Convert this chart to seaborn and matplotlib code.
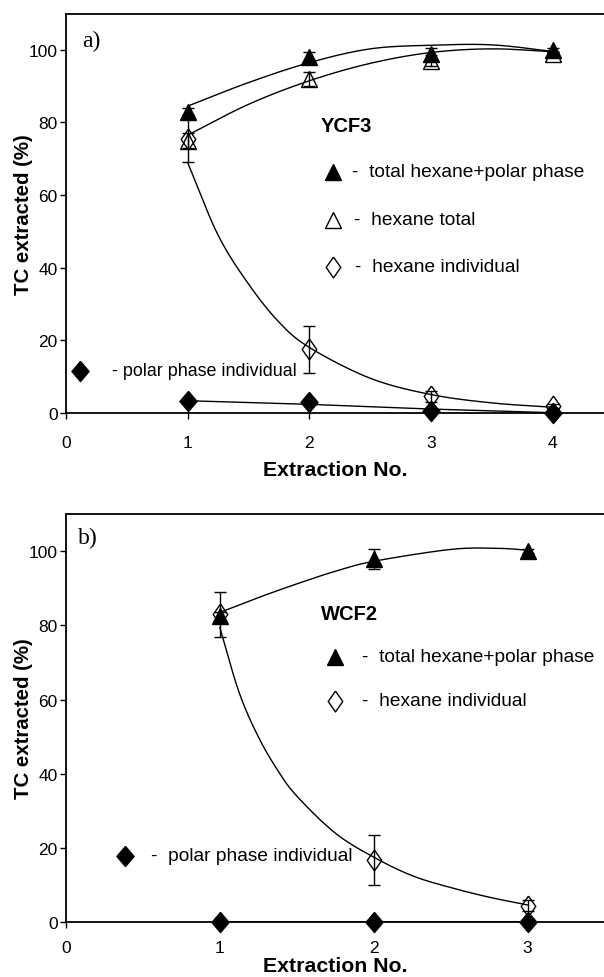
import matplotlib
matplotlib.use("Agg")
import matplotlib.pyplot as plt
import seaborn as sns
import pandas as pd
import numpy as np

# ---- panel a (YCF3) ----
a_x = [1, 2, 3, 4]
a_total = [83, 98, 99, 100]
a_total_err = [1, 1.5, 1.5, 0.5]
a_hex_total = [75, 92, 97, 99]
a_hex_total_err = [2, 2, 1.5, 0.5]
a_hex_ind = [75.5, 17.5, 4.5, 1.8]
a_hex_ind_err = [6.5, 6.5, 1.5, 0.5]
a_polar = [3.2, 3.0, 0.5, 0]

# smoothed trend lines
a_total_fit_x = [1, 1.5, 2, 2.5, 3, 3.5, 4]
a_total_fit = [84.5, 91, 96.5, 100.3, 101.3, 101.4, 99.6]
a_hex_total_fit_x = [1, 1.5, 2, 2.5, 3, 3.5, 4]
a_hex_total_fit = [76.5, 85, 91.5, 96.3, 99.3, 100.3, 99.5]
a_hex_ind_fit_x = [1, 1.25, 1.5, 1.75, 2, 2.5, 3, 3.5, 4]
a_hex_ind_fit = [69, 49, 35.5, 25, 18, 9.5, 5, 2.7, 1.5]
a_polar_fit_x = [1, 2, 3, 4]
a_polar_fit = [3.3, 2.3, 1.0, 0]

# ---- panel b (WCF2) ----
b_x = [1, 2, 3]
b_total = [82.6, 97.8, 100]
b_total_err = [1, 2.7, 0.5]
b_hex_ind = [83, 16.8, 4.4]
b_hex_ind_err = [6, 6.8, 1.5]
b_polar = [0, 0, 0]

b_total_fit_x = [1, 1.25, 1.5, 1.75, 2, 2.5, 2.8, 3]
b_total_fit = [83.5, 87.5, 91.2, 94.6, 97.3, 100.5, 100.8, 100.3]
b_hex_ind_fit_x = [1, 1.125, 1.25, 1.375, 1.5, 1.75, 2, 2.25, 2.5, 2.75, 3]
b_hex_ind_fit = [79.5, 62, 50, 41, 34, 24, 17.5, 12.5, 9.3, 6.7, 4.6]

y_ticks = [0, 20, 40, 60, 80, 100]


def smooth(xs, ys, n=30):
    # catmull-rom spline through the knots, like a spreadsheet "smoothed line"
    p = np.column_stack([xs, ys]).astype(float)
    p = np.vstack([2 * p[0] - p[1], p, 2 * p[-1] - p[-2]])
    out = []
    t = np.linspace(0, 1, n)[:, None]
    for i in range(1, len(p) - 2):
        p0, p1, p2, p3 = p[i - 1], p[i], p[i + 1], p[i + 2]
        seg = 0.5 * ((2 * p1) + (-p0 + p2) * t + (2 * p0 - 5 * p1 + 4 * p2 - p3) * t ** 2
                     + (-p0 + 3 * p1 - 3 * p2 + p3) * t ** 3)
        out.append(seg if i == 1 else seg[1:])
    out = np.vstack(out)
    return pd.DataFrame({"x": out[:, 0], "y": out[:, 1]})


sns.set_style("ticks")
plt.rcParams["font.family"] = ["Liberation Sans", "DejaVu Sans"]
plt.rcParams["text.color"] = "black"
plt.rcParams["axes.labelcolor"] = "black"

fig = plt.figure(figsize=(6.04, 9.78), dpi=100)
ax_a = fig.add_axes([0.109, 0.577, 0.907, 0.408])
ax_b = fig.add_axes([0.109, 0.0562, 0.892, 0.417])

fat_diamond = [(0, 1), (0.85, 0), (0, -1), (-0.85, 0), (0, 1)]
thin_diamond = [(0, 1), (0.7, 0), (0, -1), (-0.7, 0), (0, 1)]
line_kw = dict(color="black", linewidth=1.0, sort=False, estimator=None)
tri_kw = dict(marker="^", markersize=11, linestyle="none", color="black", clip_on=False, zorder=5)
otri_kw = dict(marker="^", markersize=11.5, linestyle="none", color="black", markerfacecolor="none",
               markeredgewidth=1.0, clip_on=False, zorder=5)
dia_kw = dict(marker=fat_diamond, markersize=14.5, linestyle="none", color="black", clip_on=False, zorder=5)
odia_kw = dict(marker=thin_diamond, markersize=15, linestyle="none", color="black",
               markerfacecolor="none", markeredgewidth=1.0, clip_on=False, zorder=5)
err_kw = dict(fmt="none", ecolor="black", elinewidth=1.0, capsize=4, capthick=1.0, zorder=4)
leg_fs = 13.8

# --- panel a ---
ax = ax_a
for fx, fy in [(a_total_fit_x, a_total_fit), (a_hex_total_fit_x, a_hex_total_fit),
               (a_hex_ind_fit_x, a_hex_ind_fit)]:
    sns.lineplot(data=smooth(fx, fy), x="x", y="y", ax=ax, **line_kw)
sns.lineplot(x=a_polar_fit_x, y=a_polar_fit, ax=ax, **line_kw)
ax.errorbar(a_x, a_total, yerr=a_total_err, **err_kw)
ax.errorbar(a_x, a_hex_total, yerr=a_hex_total_err, **err_kw)
ax.errorbar(a_x, a_hex_ind, yerr=a_hex_ind_err, **err_kw)
ax.plot(a_x, a_hex_total, **otri_kw)
ax.plot(a_x, a_hex_ind, **odia_kw)
ax.plot(a_x, a_total, **tri_kw)
ax.plot(a_x, a_polar, **dia_kw)
ax.set_xlim(0, 4.5)
ax.set_xticks([0, 1, 2, 3, 4])

ax.text(0.029, 0.932, "a)", transform=ax.transAxes, fontsize=17, family="Liberation Serif",
        ha="left", va="center")
ax.text(0.513, 0.719, "YCF3", transform=ax.transAxes, fontsize=14.5, fontweight="bold",
        ha="center", va="center")
ax.plot([0.487], [0.604], transform=ax.transAxes, **tri_kw)
ax.text(0.522, 0.604, "-  total hexane+polar phase", transform=ax.transAxes, fontsize=leg_fs, va="center")
ax.plot([0.487], [0.484], transform=ax.transAxes, **otri_kw)
ax.text(0.526, 0.484, "-  hexane total", transform=ax.transAxes, fontsize=leg_fs, va="center")
ax.plot([0.487], [0.366], transform=ax.transAxes, **odia_kw)
ax.text(0.527, 0.366, "-  hexane individual", transform=ax.transAxes, fontsize=leg_fs, va="center")
ax.plot([0.0255], [0.105], transform=ax.transAxes, **dia_kw)
ax.text(0.084, 0.105, "- polar phase individual", transform=ax.transAxes, fontsize=12.9, va="center")

# --- panel b ---
ax = ax_b
for fx, fy in [(b_total_fit_x, b_total_fit), (b_hex_ind_fit_x, b_hex_ind_fit)]:
    sns.lineplot(data=smooth(fx, fy), x="x", y="y", ax=ax, **line_kw)
sns.lineplot(x=b_x, y=b_polar, ax=ax, color="black", linewidth=2.2, estimator=None)
ax.errorbar(b_x, b_total, yerr=b_total_err, **err_kw)
ax.errorbar(b_x, b_hex_ind, yerr=b_hex_ind_err, **err_kw)
ax.plot(b_x, b_hex_ind, **odia_kw)
ax.plot(b_x, b_total, **tri_kw)
ax.plot(b_x, b_polar, **dia_kw)
ax.set_xlim(0, 3.5)
ax.set_xticks([0, 1, 2, 3])

ax.text(0.022, 0.944, "b)", transform=ax.transAxes, fontsize=17, family="Liberation Serif",
        ha="left", va="center")
ax.text(0.527, 0.757, "WCF2", transform=ax.transAxes, fontsize=14.5, fontweight="bold",
        ha="center", va="center")
ax.plot([0.499], [0.650], transform=ax.transAxes, **tri_kw)
ax.text(0.549, 0.650, "-  total hexane+polar phase", transform=ax.transAxes, fontsize=leg_fs, va="center")
ax.plot([0.499], [0.542], transform=ax.transAxes, **odia_kw)
ax.text(0.549, 0.542, "-  hexane individual", transform=ax.transAxes, fontsize=leg_fs, va="center")
ax.plot([0.109], [0.162], transform=ax.transAxes, **dia_kw)
ax.text(0.158, 0.162, "-  polar phase individual", transform=ax.transAxes, fontsize=leg_fs, va="center")

for ax, xpad, ylab_x, xlab_y in [(ax_a, 12, -0.060, -0.118), (ax_b, 8.6, -0.061, -0.083)]:
    ax.set_ylim(0, 110)
    ax.set_yticks(y_ticks)
    ax.spines["right"].set_visible(False)
    for s in ("left", "top", "bottom"):
        ax.spines[s].set_linewidth(1.3)
        ax.spines[s].set_color("black")
    ax.tick_params(direction="out", length=4, width=1.0, labelsize=12.5, colors="black", pad=2)
    ax.tick_params(axis="x", pad=xpad)
    ax.set_ylabel("TC extracted (%)", fontsize=14.7, fontweight="bold")
    ax.set_xlabel("Extraction No.", fontsize=15.3, fontweight="bold")
    ax.yaxis.set_label_coords(ylab_x, 0.5)
    ax.xaxis.set_label_coords((335 - 66) / (604 * ax.get_position().width), xlab_y)

fig.savefig("out.png", dpi=100)
